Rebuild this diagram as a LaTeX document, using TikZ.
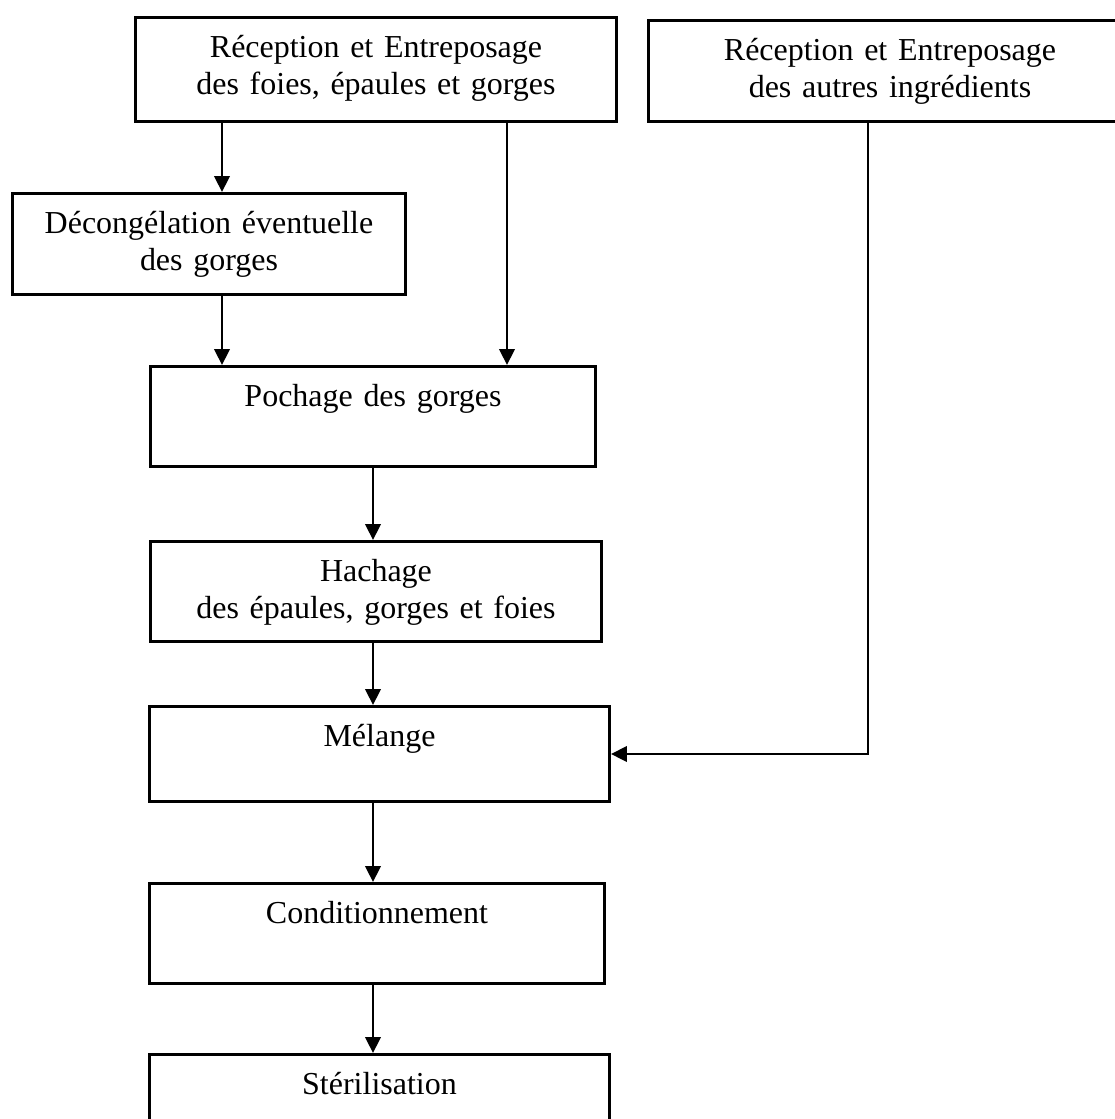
\documentclass[tikz,border=0pt]{standalone}
\usepackage{fontspec}
\setmainfont{Liberation Serif}
\usetikzlibrary{arrows.meta, calc}

\begin{document}
\begin{tikzpicture}[
            > = {Triangle[length=0.16cm, width=0.155cm]}, % filled arrow head
            font = \fontsize{9.1pt}{10.5pt}\selectfont,
            line width = 0.6pt % connector style
        ]

        \tikzstyle{stepbox}=[
            draw = black,
            line width = 0.85pt,
            inner sep = 0pt,
            align = center,
            anchor = north west,
            text height = 0.40cm,
            text depth = 0.60cm
        ]

        \useasboundingbox (0,0) rectangle (11.15,-11.19);

        \node[stepbox, text width=4.81cm, text depth=0.64cm] (foies) at (1.34,-0.16) {Réception et Entreposage\\des foies, épaules et gorges};
        \node[stepbox, text width=4.83cm, text depth=0.61cm] (autres) at (6.47,-0.19) {Réception et Entreposage\\des autres ingrédients};
        \node[stepbox, text width=3.93cm, text depth=0.61cm] (decong) at (0.11,-1.92) {Décongélation éventuelle\\des gorges};
        \node[stepbox, text width=4.45cm] (pochage) at (1.49,-3.65) {Pochage des gorges};
        \node[stepbox, text width=4.51cm] (hachage) at (1.49,-5.40) {Hachage\\des épaules, gorges et foies};
        \node[stepbox, text width=4.60cm, text depth=0.55cm] (melange) at (1.48,-7.05) {Mélange};
        \node[stepbox, text width=4.55cm] (condition) at (1.48,-8.82) {Conditionnement};
        \node[stepbox, text width=4.60cm] (steril) at (1.48,-10.53) {Stérilisation};

        \coordinate (f1) at ($(foies.south west)+(0.88,0)$);
        \coordinate (f2) at ($(foies.south west)+(3.73,0)$);
        \coordinate (a1) at ($(autres.south west)+(2.21,0)$);
        \coordinate (axis) at (3.73,0);

        \draw[->] (f1) -- (f1 |- decong.north);
        \draw[->] (f2) -- (f2 |- pochage.north);
        \draw[->] (decong.south -| f1) -- (f1 |- pochage.north);
        \draw[->] (pochage.south -| axis) -- (axis |- hachage.north);
        \draw[->] (hachage.south -| axis) -- (axis |- melange.north);
        \draw[->] (melange.south -| axis) -- (axis |- condition.north);
        \draw[->] (condition.south -| axis) -- (axis |- steril.north);
        \draw[->] (a1) |- (melange.east);
    \end{tikzpicture}
\end{document}
